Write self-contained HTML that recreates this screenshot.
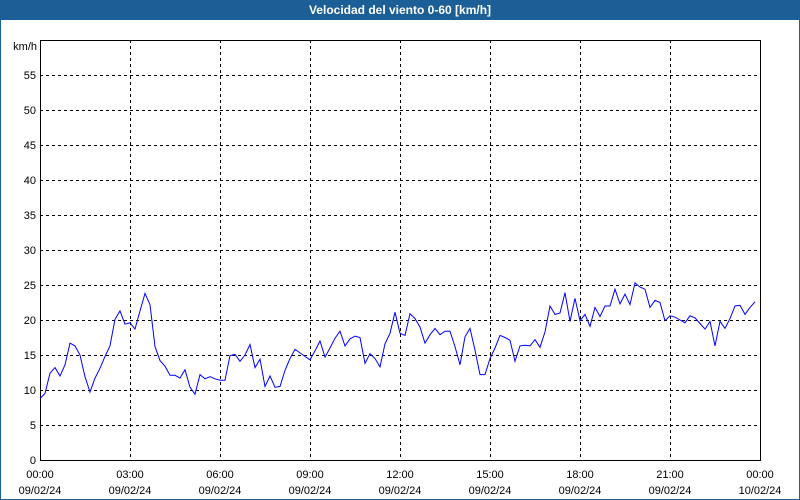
<!DOCTYPE html>
<html><head><meta charset="utf-8"><style>
body{margin:0;width:800px;height:500px;overflow:hidden;background:#fff;font-family:"Liberation Sans",sans-serif}
#frame{position:absolute;left:0;top:0;width:798px;height:498px;border:1px solid #1c5f96}
#title{position:absolute;left:0;top:0;width:800px;height:20px;background:#1c5f96;color:#fff;font-weight:bold;font-size:12px;text-align:center;line-height:20px}
</style></head><body>
<div id="frame"></div>
<div id="title">Velocidad del viento 0-60 [km/h]</div>
<svg id="chart" width="800" height="500" style="position:absolute;left:0;top:0"></svg>
<script>
const yTicks=[0,5,10,15,20,25,30,35,40,45,50,55];
const xTickHours=[0,3,6,9,12,15,18,21,24];
const xTickTimes=["00:00","03:00","06:00","09:00","12:00","15:00","18:00","21:00","00:00"];
const xTickDates=["09/02/24","09/02/24","09/02/24","09/02/24","09/02/24","09/02/24","09/02/24","09/02/24","10/02/24"];
const windSpeed=[8.8,9.5,12.4,13.2,12,13.6,16.7,16.3,15,11.9,9.7,11.7,13.1,14.8,16.3,20.1,21.3,19.4,19.6,18.7,21.3,23.8,22.2,16.2,14.2,13.4,12.1,12.1,11.7,12.9,10.4,9.4,12.2,11.6,11.9,11.6,11.4,11.4,14.9,15.1,14.1,15,16.5,13.2,14.4,10.5,12,10.4,10.5,12.8,
14.5,15.8,15.3,14.8,14.3,15.6,17,14.7,16,17.4,18.4,16.3,17.3,17.7,17.5,13.8,15.2,14.5,13.3,16.6,18.1,21.1,18.1,17.8,20.9,20.2,19,16.7,17.9,18.8,17.9,18.4,18.4,16.2,13.6,17.6,18.8,15.7,12.2,12.2,14.5,16,17.8,17.5,17.1,14.1,16.3,16.4,
16.3,17.2,16.1,18.3,22,20.8,21,23.9,19.8,23.1,19.9,20.8,19.1,21.8,20.5,22,22,24.4,22.3,23.7,22.2,25.3,24.7,24.4,21.8,22.8,22.5,19.9,20.6,20.4,20,19.6,20.6,20.3,19.5,18.7,19.8,16.3,19.8,18.8,20.2,22,22.1,20.8,21.8,22.6];
const stepMinutes=10;

const L=40,R=760,T=40,B=460,ymax=60,hours=24;
const xs=h=>L+(R-L)*h/hours;
const ys=v=>B-(B-T)*v/ymax;
const svg=document.getElementById('chart');
const NS='http://www.w3.org/2000/svg';
function mk(tag,attrs){const e=document.createElementNS(NS,tag);for(const k in attrs)e.setAttribute(k,attrs[k]);svg.appendChild(e);return e;}

mk('rect',{x:L,y:T,width:R-L,height:B-T,fill:'#fff'});
yTicks.forEach(v=>{
  if(v>0){const g=mk('line',{x1:L,x2:R,y1:ys(v)+0.5,y2:ys(v)+0.5,stroke:'#000','stroke-dasharray':'3,3'});
  
  }
  const t=mk('text',{x:36,y:ys(v)+4,'text-anchor':'end','font-size':'11','fill':'#000'});
  t.textContent=v;
  
  
});
const u=mk('text',{x:37,y:T+10,'text-anchor':'end','font-size':'11','fill':'#000'});
u.textContent='km/h';


xTickHours.forEach((h,i)=>{
  if(h>0&&h<hours){const g=mk('line',{x1:xs(h)+0.5,x2:xs(h)+0.5,y1:T,y2:B,stroke:'#000','stroke-dasharray':'3,3'});
  
  }
  const t1=mk('text',{x:xs(h),y:478,'text-anchor':'middle','font-size':'11','fill':'#000'});
  t1.textContent=xTickTimes[i];
  
  
  const t2=mk('text',{x:xs(h),y:494,'text-anchor':'middle','font-size':'11','fill':'#000'});
  t2.textContent=xTickDates[i];
  
  
});
const border=mk('rect',{x:L+0.5,y:T+0.5,width:R-L,height:B-T,fill:'none',stroke:'#000'});


const pts=windSpeed.map((v,i)=>xs(i*stepMinutes/60)+','+ys(v)).join(' ');
const line=mk('polyline',{points:pts,fill:'none',stroke:'#0000ff','stroke-width':'1'});


</script>
</body></html>
